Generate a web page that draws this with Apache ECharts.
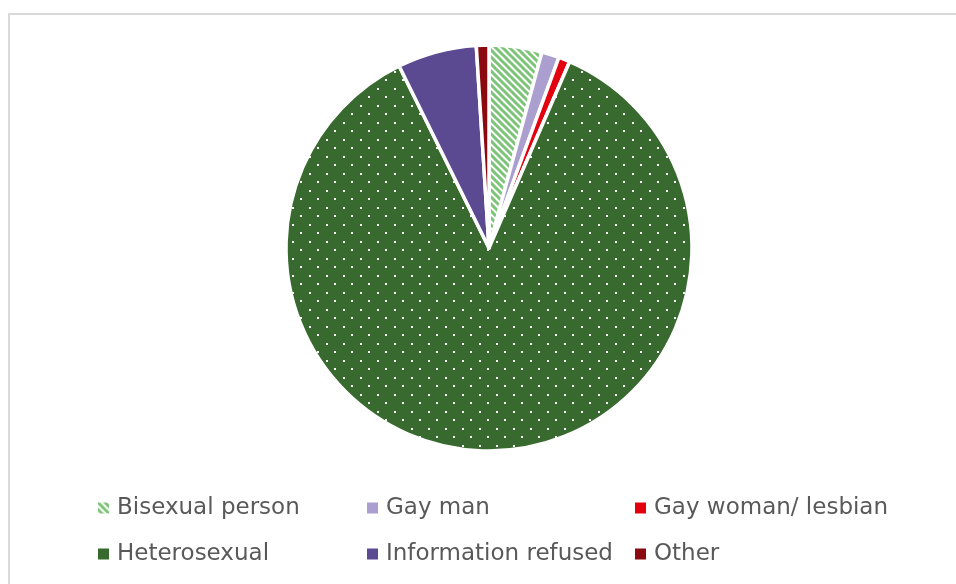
<!DOCTYPE html>
<html>
<head>
<meta charset="utf-8">
<script src="https://cdn.jsdelivr.net/npm/echarts@6/dist/echarts.min.js"></script>
<style>
  html, body { margin: 0; padding: 0; background: #fff; }
  #pie { width: 956px; height: 584px; }
</style>
</head>
<body>
<div id="pie"></div>
<script>
var myChart = echarts.init(document.getElementById('pie'));

var categories = ['Bisexual person', 'Gay man', 'Gay woman/ lesbian', 'Heterosexual', 'Information refused', 'Other'];
var shares = [4.2, 1.4, 0.9, 86.2, 6.3, 1.0];
var colors = ['#7cc477', '#ab9fd0', '#e3000f', '#386a2f', '#5b4a92', '#8a0a10'];

// striped fill for bisexual slice
function stripes() {
  var n = 7;
  var c = document.createElement('canvas');
  c.width = n; c.height = n;
  var g = c.getContext('2d');
  g.fillStyle = '#fff';
  g.fillRect(0, 0, n, n);
  g.strokeStyle = colors[0];
  g.lineWidth = 3;
  g.beginPath();
  g.moveTo(-1, -1); g.lineTo(n + 1, n + 1);
  g.moveTo(-n - 1, -1); g.lineTo(1, n + 1);
  g.moveTo(n - 1, -1); g.lineTo(2 * n + 1, n + 1);
  g.stroke();
  return c;
}

// dotted fill for heterosexual slice
function dots() {
  var c = document.createElement('canvas');
  c.width = 17; c.height = 17;
  var g = c.getContext('2d');
  g.fillStyle = colors[3];
  g.fillRect(0, 0, 17, 17);
  g.fillStyle = '#fff';
  g.fillRect(3, 3, 2, 2);
  g.fillRect(11, 11, 2, 2);
  return c;
}

var fills = colors.slice();
fills[0] = { image: stripes(), repeat: 'repeat' };
fills[3] = { image: dots(), repeat: 'repeat' };

var data = categories.map(function (name, i) {
  return { name: name, value: shares[i], itemStyle: { color: fills[i] } };
});

function legendItems(names) {
  return names.map(function (n) {
    var i = categories.indexOf(n);
    return i === 3 ? { name: n, itemStyle: { color: colors[3], borderWidth: 0 } } : { name: n };
  });
}

var legendBase = {
  orient: 'vertical',
  top: 493,
  padding: 0,
  itemGap: 16,
  itemWidth: 11,
  itemHeight: 11,
  icon: 'rect',
  selectedMode: false,
  itemStyle: { borderWidth: 0 },
  textStyle: {
    fontFamily: 'DejaVu Sans',
    fontSize: 23,
    color: '#595959',
    lineHeight: 30,
    padding: [0, 0, 0, 3]
  }
};

var option = {
  animation: false,
  color: colors,
  graphic: [{
    type: 'rect',
    shape: { x: 9, y: 14, width: 1000, height: 1000 },
    style: { fill: 'none', stroke: '#d9d9d9', lineWidth: 2 },
    silent: true
  }],
  legend: [
    Object.assign({}, legendBase, { left: 98, data: legendItems(['Bisexual person', 'Heterosexual']) }),
    Object.assign({}, legendBase, { left: 367, data: legendItems(['Gay man', 'Information refused']) }),
    Object.assign({}, legendBase, { left: 635, data: legendItems(['Gay woman/ lesbian', 'Other']) })
  ],
  series: [{
    type: 'pie',
    center: [489, 248],
    radius: [0, 203],
    startAngle: 90,
    clockwise: true,
    label: { show: false },
    labelLine: { show: false },
    itemStyle: { borderColor: '#fff', borderWidth: 3.5 },
    emphasis: { disabled: true },
    data: data
  }]
};

myChart.setOption(option);
</script>
</body>
</html>
